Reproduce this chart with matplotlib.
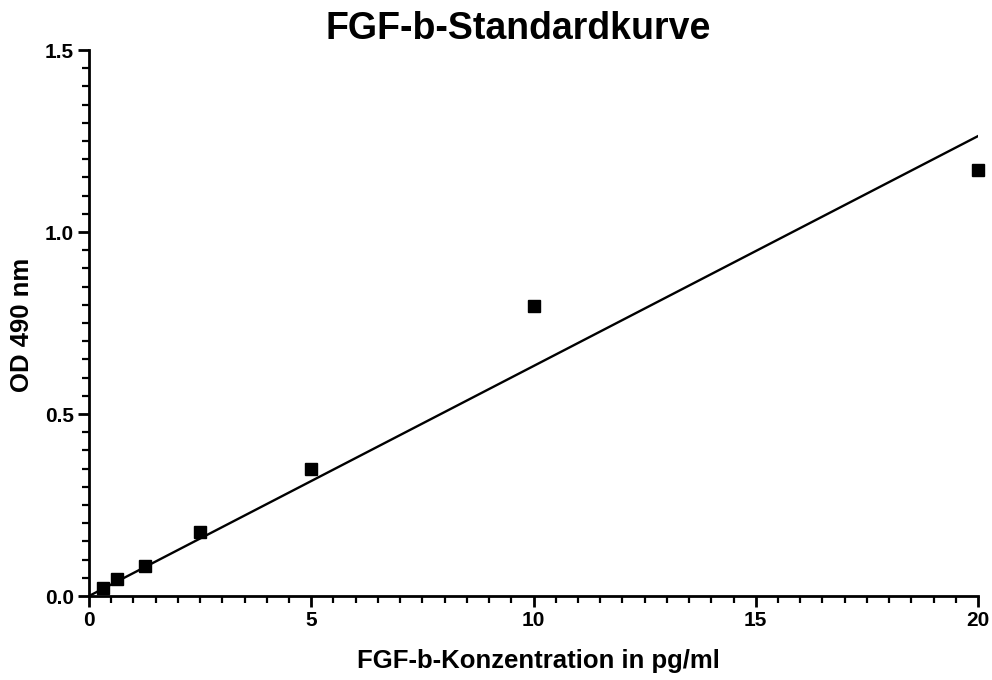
import numpy as np
import matplotlib
matplotlib.use("Agg")
import matplotlib.pyplot as plt
from matplotlib.ticker import MultipleLocator, FuncFormatter

plt.rcParams['font.family'] = ['Liberation Sans', 'DejaVu Sans']

concentration = [0.3125, 0.625, 1.25, 2.5, 5, 10, 20]
od490 = [0.022, 0.047, 0.082, 0.177, 0.348, 0.797, 1.170]

title = "FGF-b-Standardkurve"
xlabel = "FGF-b-Konzentration in pg/ml"
ylabel = "OD 490 nm"

x = np.array(concentration)
y = np.array(od490)
slope = np.sum(x * y) / np.sum(x * x)  # linear fit through origin

fig = plt.figure(figsize=(9.92, 6.8), dpi=100)
ax = fig.add_axes([89/992, 84/680, (978-89)/992, (596-50)/680])

xf = np.array([0, 20])
ax.plot(xf, slope * xf, color='black', lw=1.7, zorder=2)
ax.plot(x, y, 's', color='black', ms=9.2, zorder=3, clip_on=False)

ax.set_xlim(0, 20)
ax.set_ylim(0, 1.5)
ax.xaxis.set_major_locator(MultipleLocator(5))
ax.xaxis.set_minor_locator(MultipleLocator(0.5))
ax.yaxis.set_major_locator(MultipleLocator(0.5))
ax.yaxis.set_minor_locator(MultipleLocator(0.05))
ax.xaxis.set_major_formatter(FuncFormatter(lambda v, p: f"{v:.0f}"))
ax.yaxis.set_major_formatter(FuncFormatter(lambda v, p: f"{v:.1f}"))

for s in ['top', 'right']:
    ax.spines[s].set_visible(False)
for s in ['left', 'bottom']:
    ax.spines[s].set_linewidth(2)

ax.tick_params(which='major', length=8, width=2, direction='out', labelsize=15, pad=3)
ax.tick_params(which='minor', length=5, width=1.6, direction='out')
for lbl in ax.get_xticklabels() + ax.get_yticklabels():
    lbl.set_fontweight('bold')

fig.text(538/992, 1 - 661/680, xlabel, fontsize=18.5, fontweight='bold', ha='center', va='center')
fig.text(22/992, 1 - 325/680, ylabel, fontsize=18.5, fontweight='bold', ha='center', va='center', rotation=90)
fig.text(518/992, 1 - 29/680, title, fontsize=27, fontweight='bold', ha='center', va='center')

fig.savefig("out.png", dpi=100)
